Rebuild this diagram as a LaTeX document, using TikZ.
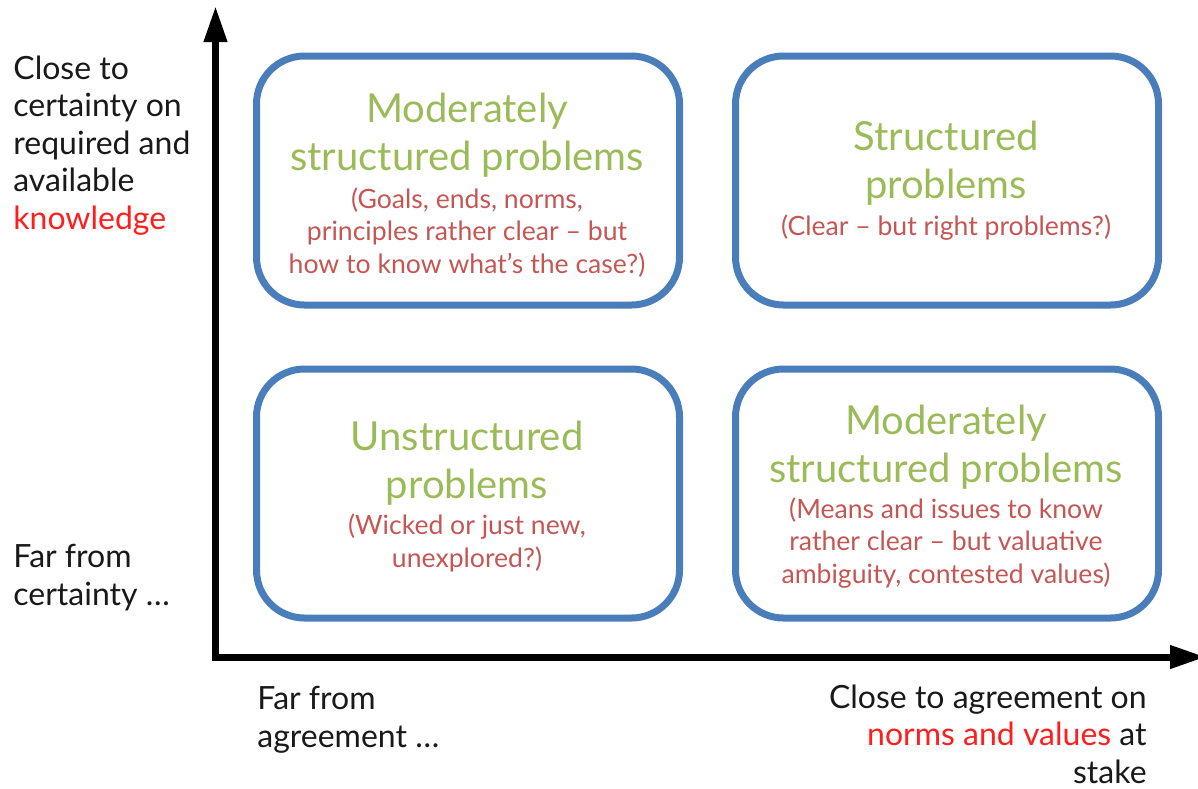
\documentclass[tikz,border=0pt]{standalone}
\usepackage{fontspec}
\setmainfont{Lato}
\usetikzlibrary{arrows.meta}
\definecolor{boxblue}{RGB}{74,126,187}
\definecolor{titlegreen}{RGB}{155,187,89}
\definecolor{notered}{RGB}{196,86,84}
\definecolor{keyred}{RGB}{255,30,30}
\tikzset{
  quad box/.style={draw=boxblue,line width=3.5pt,rounded corners=24pt,
    minimum width=211.5pt,minimum height=124.5pt,inner sep=0pt},
  title text/.style={text=titlegreen,align=center,anchor=base,inner sep=0pt,
    font=\fontsize{20}{24}\selectfont},
  note text/.style={text=notered,align=center,anchor=base,inner sep=0pt,
    font=\fontsize{13.3}{16.25}\selectfont},
  axis label/.style={text=black!90,align=left,inner sep=0pt,
    font=\fontsize{16}{18.75}\selectfont}
}

\begin{document}
\begin{tikzpicture}[x=0.5pt,y=-0.5pt,
    axis/.style={line width=3.5pt,
      {Triangle[length=18pt,width=11pt]}-{Triangle[length=18pt,width=11pt]}}
  ]
  \useasboundingbox (0,0) rectangle (1198,788);
  % axes
  \coordinate (origin) at (215.5,657);
  \coordinate (ytip) at (215.5,6);
  \coordinate (xtip) at (1206,657);
  \draw[axis] (ytip) -- (origin) -- (xtip);
  % the four quadrants (text nodes sit on their last line)
  \node[quad box] (tl) at (468,180.5) {};
  \node[quad box] (tr) at (947,180.5) {};
  \node[quad box] (bl) at (468,493.5) {};
  \node[quad box] (br) at (947,493.5) {};
  \node[title text] (tl title) at (467,170) {Moderately\\structured problems};
  \node[note text] (tl note) at (467,273)
    {(Goals, ends, norms,\\principles rather clear – but\\how to know what’s the case?)};
  \node[title text] (tr title) at (946,198) {Structured\\problems};
  \node[note text] (tr note) at (946,235) {(Clear – but right problems?)};
  \node[title text] (bl title) at (467,498) {Unstructured\\problems};
  \node[note text] (bl note) at (467,567) {(Wicked or just new,\\unexplored?)};
  \node[title text] (br title) at (946,482) {Moderately\\structured problems};
  \node[note text] (br note) at (946,583)
    {(Means and issues to know\\rather clear – but valuative\\ambiguity, contested values)};
  % axis labels
  \node[axis label,anchor=base west] (certain) at (13,229)
    {Close to\\certainty on\\required and\\available\\\textcolor{keyred}{knowledge}};
  \node[axis label,anchor=base west] (uncertain) at (13,605) {Far from\\certainty …};
  \node[axis label,anchor=base west] (disagree) at (257,747) {Far from\\agreement …};
  \node[axis label,anchor=base east,align=right] (agree) at (1147,783)
    {Close to agreement on\\\textcolor{keyred}{norms and values} at\\stake};
\end{tikzpicture}
\end{document}
